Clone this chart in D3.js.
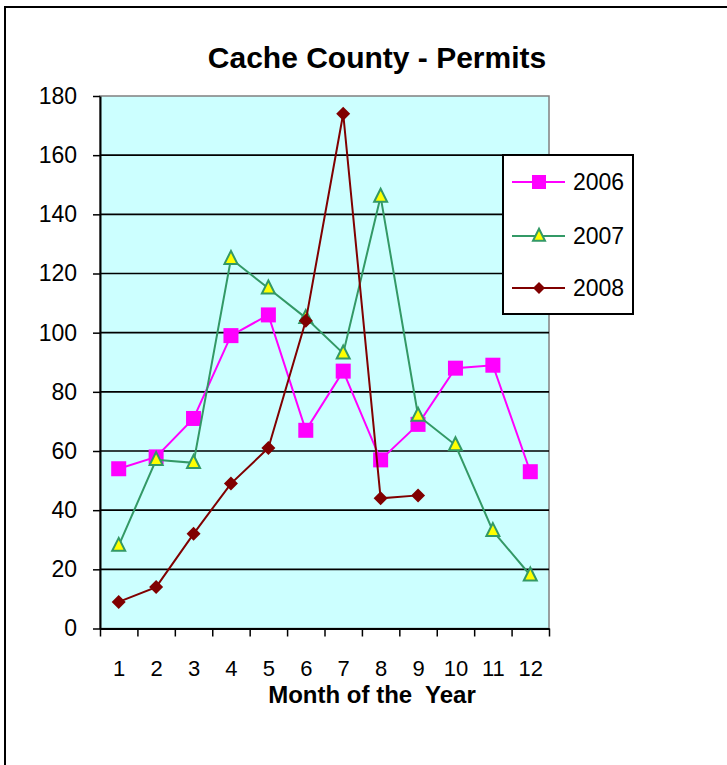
<!DOCTYPE html>
<html>
<head>
<meta charset="utf-8">
<script src="https://cdn.jsdelivr.net/npm/d3@7"></script>
<style>
  body { margin: 0; background: #fff; }
  svg text { font-family: Arial, "Liberation Sans", sans-serif; }
</style>
</head>
<body>
<div id="chart"></div>
<script>
// data
const months = [1, 2, 3, 4, 5, 6, 7, 8, 9, 10, 11, 12]
const permits2006 = [54, 58, 71, 99, 106, 67, 87, 57, 69, 88, 89, 53]
const permits2007 = [28, 57, 56, 125, 115, 105, 93, 146, 72, 62, 33, 18]
const permits2008 = [9, 14, 32, 49, 61, 104, 174, 44, 45]
const yTicks = [0, 20, 40, 60, 80, 100, 120, 140, 160, 180]
const seriesNames = ['2006', '2007', '2008']

const width = 727
const height = 765
const plot = {left: 100, right: 549, top: 96, bottom: 628.5}

const svg = d3.select('#chart')
  .append('svg')
  .attr('width', width)
  .attr('height', height)

// outer chart border (only left / top edges visible)
svg.append('rect')
  .attr('x', 5)
  .attr('y', 7)
  .attr('width', 900)
  .attr('height', 900)
  .attr('fill', 'none')
  .attr('stroke', '#000')
  .attr('stroke-width', 2)

const x = d3.scaleLinear().domain([0.5, 12.5]).range([plot.left, plot.right])
const y = d3.scaleLinear().domain([0, 180]).range([plot.bottom, plot.top])

// plot background
svg.append('rect')
  .attr('x', plot.left)
  .attr('y', plot.top)
  .attr('width', plot.right - plot.left)
  .attr('height', plot.bottom - plot.top)
  .attr('fill', '#ccffff')
  .attr('stroke', '#808080')
  .attr('stroke-width', 1.5)

// gridlines
svg.append('g')
  .selectAll('line')
  .data(yTicks.filter(d => d > 0 && d < 180))
  .enter()
  .append('line')
  .attr('x1', plot.left)
  .attr('x2', plot.right)
  .attr('y1', d => y(d))
  .attr('y2', d => y(d))
  .attr('stroke', '#000')
  .attr('stroke-width', 1.6)

// y axis
const yAxis = svg.append('g')
  .attr('transform', `translate(${plot.left},0)`)
  .call(d3.axisLeft(y).tickValues(yTicks).tickSize(7).tickSizeOuter(0).tickPadding(16))
yAxis.select('.domain').attr('stroke', '#000').attr('stroke-width', 2)
yAxis.selectAll('.tick line').attr('stroke', '#000').attr('stroke-width', 1.5)
yAxis.selectAll('text').attr('font-size', 23).attr('fill', '#000')

// x axis: tick marks between months
const xTickAxis = svg.append('g')
  .attr('transform', `translate(0,${plot.bottom})`)
  .call(d3.axisBottom(x).tickValues(d3.range(0.5, 13, 1)).tickFormat('').tickSize(8).tickSizeOuter(0))
xTickAxis.select('.domain').attr('stroke', '#000').attr('stroke-width', 2)
xTickAxis.selectAll('.tick line').attr('stroke', '#000').attr('stroke-width', 1.5)

// x axis: month labels
const xLabelAxis = svg.append('g')
  .attr('transform', `translate(0,${plot.bottom})`)
  .call(d3.axisBottom(x).tickValues(months).tickSize(0).tickPadding(32))
xLabelAxis.select('.domain').remove()
xLabelAxis.selectAll('text').attr('font-size', 22).attr('fill', '#000')

// titles
svg.append('text')
  .attr('x', 377)
  .attr('y', 68)
  .attr('text-anchor', 'middle')
  .attr('font-size', 30)
  .attr('font-weight', 'bold')
  .text('Cache County - Permits')

svg.append('text')
  .attr('x', 372)
  .attr('y', 703)
  .attr('text-anchor', 'middle')
  .attr('font-size', 24)
  .attr('font-weight', 'bold')
  .attr('xml:space', 'preserve')
  .text('Month of the  Year')

// markers
const drawMarker = (g, kind, size) => {
  if (kind === 'square') {
    g.append('rect')
      .attr('x', -size / 2).attr('y', -size / 2)
      .attr('width', size).attr('height', size)
      .attr('fill', '#ff00ff')
  } else if (kind === 'triangle') {
    g.append('path')
      .attr('d', `M0,${-size * 0.6}L${size / 2},${size * 0.4}L${-size / 2},${size * 0.4}Z`)
      .attr('fill', '#ffff00')
      .attr('stroke', '#339966')
      .attr('stroke-width', 2)
  } else {
    g.append('path')
      .attr('d', `M0,${-size / 2}L${size / 2},0L0,${size / 2}L${-size / 2},0Z`)
      .attr('fill', '#800000')
  }
}

const series = [
  {name: seriesNames[0], values: permits2006, color: '#ff00ff', marker: 'square', size: 15},
  {name: seriesNames[1], values: permits2007, color: '#339966', marker: 'triangle', size: 13},
  {name: seriesNames[2], values: permits2008, color: '#800000', marker: 'diamond', size: 14}
]

const line = d3.line()
  .x((d, i) => x(months[i]))
  .y(d => y(d))

series.forEach(s => {
  const g = svg.append('g')
  g.append('path')
    .datum(s.values)
    .attr('d', line)
    .attr('fill', 'none')
    .attr('stroke', s.color)
    .attr('stroke-width', 2)
  g.selectAll('.pt')
    .data(s.values)
    .enter()
    .append('g')
    .attr('class', 'pt')
    .attr('transform', (d, i) => `translate(${x(months[i])},${y(d)})`)
    .each(function () { drawMarker(d3.select(this), s.marker, s.size) })
})

// legend
const legend = svg.append('g')
legend.append('rect')
  .attr('x', 503)
  .attr('y', 155)
  .attr('width', 130)
  .attr('height', 159)
  .attr('fill', '#fff')
  .attr('stroke', '#000')
  .attr('stroke-width', 2)

const legendY = [182, 236, 288]
series.forEach((s, i) => {
  const row = legend.append('g').attr('transform', `translate(0,${legendY[i]})`)
  row.append('line')
    .attr('x1', 512).attr('x2', 565)
    .attr('stroke', s.color)
    .attr('stroke-width', 2)
  const m = row.append('g').attr('transform', 'translate(539,0)')
  drawMarker(m, s.marker, s.marker === 'square' ? 14 : 12)
  row.append('text')
    .attr('x', 573)
    .attr('dy', '0.35em')
    .attr('font-size', 23)
    .text(s.name)
})
</script>
</body>
</html>
